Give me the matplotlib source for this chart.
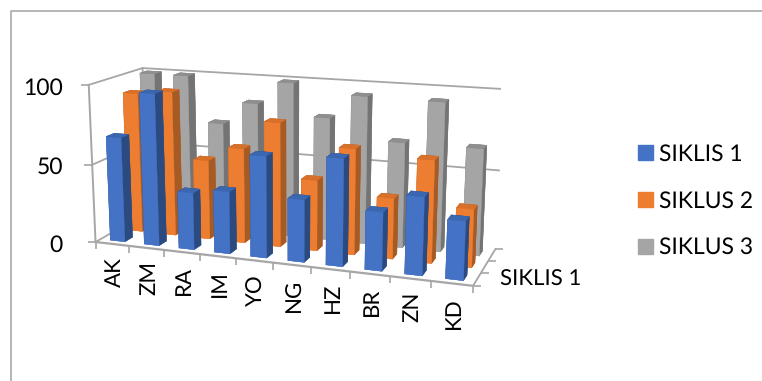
import numpy as np
import matplotlib
matplotlib.use("Agg")
import matplotlib.pyplot as plt
from matplotlib.lines import Line2D
from matplotlib.patches import Patch
from matplotlib.transforms import IdentityTransform
from mpl_toolkits.mplot3d import proj3d

plt.rcParams['font.family'] = ['Lato', 'DejaVu Sans']
plt.rcParams['text.hinting'] = 'no_hinting'

# Scores per school, one list per cycle
categories = ['AK', 'ZM', 'RA', 'IM', 'YO', 'NG', 'HZ', 'BR', 'ZN', 'KD']
siklis_1 = [67, 96, 36, 39, 63, 38.5, 65.5, 35.5, 47, 35]
siklus_2 = [90.5, 93, 51, 60.5, 78.5, 44.5, 66, 37.5, 63, 35.5]
siklus_3 = [99.5, 99.5, 70, 84.5, 99, 78.5, 93.5, 66.5, 93, 66.5]
series_names = ['SIKLIS 1', 'SIKLUS 2', 'SIKLUS 3']
depth_label = 'SIKLIS 1'
value_ticks = [0, 50, 100]

W, H = 762, 381
SCALE, OFF_X, OFF_Y = 2302.8, 293.54, 167.56
GRID = '#a6a6a6'
# face colours: bottom, top, front, back, left, right
FACES = [
    ['#4472c4', '#3b66b0', '#4472c4', '#2b4a80', '#2b4a80', '#2b4a80'],
    ['#ed7d31', '#d9702a', '#ed7d31', '#a65a24', '#a65a24', '#a65a24'],
    ['#a5a5a5', '#8f8f8f', '#a5a5a5', '#747474', '#747474', '#747474'],
]
BAR = 0.43
GAP = 0.285

fig = plt.figure(figsize=(W / 100, H / 100), dpi=100)
ax = fig.add_axes([0, 0, 1, 1], projection='3d', computed_zorder=False)
ax.set_axis_off()
ax.patch.set_alpha(0)
n_cat = len(categories)
n_ser = len(series_names)
ax.set_xlim(0, n_cat, view_margin=0)
ax.set_ylim(0, n_ser, view_margin=0)
ax.set_zlim(0, 100, view_margin=0)
ax.view_init(elev=13.784, azim=-70.192, roll=-0.014)
ax.set_proj_type('persp', focal_length=0.492)
ax.set_box_aspect((1, 0.297, 0.418))

# Size the square axes so projected units land at the wanted pixel scale
x0, x1 = ax.viewLim.intervalx
y0, y1 = ax.viewLim.intervaly
ax.set_position([(OFF_X + SCALE * x0) / W,
                 (H - (OFF_Y - SCALE * y0)) / H,
                 SCALE * (x1 - x0) / W,
                 SCALE * (y1 - y0) / H])
ax.apply_aspect()


def screen(x, y, z):
    """Pixel position (origin bottom-left) of a data point."""
    u, v, _ = proj3d.proj_transform(x, y, z, ax.get_proj())
    return ax.transData.transform((u, v))


def pixel_line(xs, ys, color=GRID, lw=1.4):
    fig.add_artist(Line2D(xs, ys, color=color, lw=lw,
                          transform=IdentityTransform(), solid_capstyle='butt'))


# Walls, floor edges
for z in value_ticks[1:]:
    ax.plot([0, n_cat], [n_ser, n_ser], [z, z], color=GRID, lw=1.3, zorder=1)
    ax.plot([0, 0], [0, n_ser], [z, z], color=GRID, lw=1.3, zorder=1)
ax.plot([0, 0], [0, 0], [0, 100], color=GRID, lw=1.4, zorder=1)
ax.plot([0, 0], [n_ser, n_ser], [0, 100], color=GRID, lw=1.3, zorder=1)
ax.plot([0, n_cat], [0, 0], [0, 0], color=GRID, lw=1.6, zorder=1)
ax.plot([0, 0], [0, n_ser], [0, 0], color=GRID, lw=1.3, zorder=1)
ax.plot([n_cat, n_cat], [0, n_ser], [0, 0], color=GRID, lw=1.3, zorder=1)

# Columns, back row first and left to right within a row
values = [siklis_1, siklus_2, siklus_3]
order = 10
for j in reversed(range(n_ser)):
    for i in range(n_cat):
        ax.bar3d(i + GAP, j + GAP, 0, BAR, BAR, values[j][i],
                 color=FACES[j], shade=False, zorder=order,
                 edgecolor=FACES[j], linewidth=0.3)
        order += 1

# Tick marks and axis labels
for z, tick in zip(value_ticks, map(str, value_ticks)):
    px, py = screen(0, 0, z)
    pixel_line([px - 8, px], [py, py], lw=1.2)
    fig.text(63 / W, (py - 3) / H, tick, ha='right', va='center',
             fontsize=16.5, color='black')
for i in range(n_cat + 1):
    px, py = screen(i, 0, 0)
    pixel_line([px, px], [py - 7, py], lw=1.2)
for j in range(n_ser + 1):
    px, py = screen(n_cat, j, 0)
    pixel_line([px, px + 8], [py, py], lw=1.2)
for i, label in enumerate(categories):
    px, py = screen(i + 0.5, 0, 0)
    fig.text((px + 2) / W, (py - 13.5) / H, label, rotation=90,
             ha='center', va='top', fontsize=16, color='black')
px, py = screen(n_cat, 0.5, 0)
fig.text(500 / W, py / H, depth_label, ha='left', va='center',
         fontsize=16, color='black')

# Legend
handles = [Patch(color=f[2]) for f in FACES]
fig.legend(handles, series_names, loc='center left',
           bbox_to_anchor=(638 / W, 1 - 201 / H), frameon=False,
           fontsize=16.5, handlelength=0.655, handleheight=0.655,
           handletextpad=0.26, labelspacing=1.13, borderpad=0, borderaxespad=0)

# Chart frame
pixel_line([10.5, 10.5, 762], [0, H - 10.5, H - 10.5], color='#a9a9a9', lw=1.2)

fig.savefig('out.png', dpi=100)
